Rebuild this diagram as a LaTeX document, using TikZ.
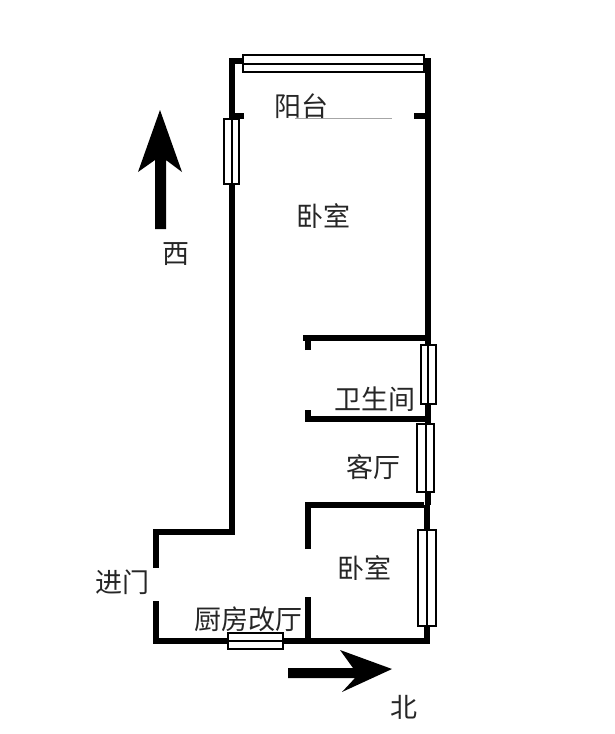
\documentclass[tikz,border=0pt]{standalone}
\usepackage{fontspec}
\newfontfamily\cjk{Noto Sans CJK SC}
\tikzset{
    wall/.style={line width=5.5pt, black},
    window/.style={draw=black, line width=1.5pt, fill=white},
    midline/.style={black, line width=1.5pt},
    room/.style={font=\cjk\fontsize{27}{27}\selectfont, inner sep=0pt, text=black!85},
    bigarrow/.style={fill=black, draw=none},
}
\begin{document}
\begin{tikzpicture}[x=1pt,y=-1pt]
    \useasboundingbox (0,0) rectangle (614,734);

    % outer walls
    \draw[wall] (243,61) -- (232,61) -- (232,532) -- (156,532) -- (156,568);
    \draw[wall] (156,601) -- (156,641) -- (427,641) -- (427,505);
    \draw[wall] (424,61) -- (428,61) -- (428,505);

    % balcony stubs
    \draw[wall] (232,116) -- (244,116);
    \draw[wall] (414,116) -- (428,116);
    \draw[gray!70, line width=0.8pt] (295,118) -- (392,118);

    % inner walls
    \draw[wall] (308,350) -- (308,338) -- (428,338);
    \draw[wall] (303,338) -- (308,338);
    \draw[wall] (308,410) -- (308,419) -- (428,419);
    \draw[wall] (308,549) -- (308,505) -- (424,505);
    \draw[wall] (308,597) -- (308,641);

    % windows
    \draw[window, line width=2pt] (243,55) rectangle (424,72);
    \draw[midline, line width=2pt] (243,63.5) -- (424,63.5);
    \draw[window] (224,119) rectangle (239,184);
    \draw[midline] (232,119) -- (232,184);
    \draw[window] (421,345) rectangle (436,404);
    \draw[midline] (428,345) -- (428,404);
    \draw[window] (417,424) rectangle (434,492);
    \draw[midline] (426,424) -- (426,492);
    \draw[window] (418,530) rectangle (436,626);
    \draw[midline] (427,530) -- (427,626);
    \draw[window] (228,633) rectangle (283,649);
    \draw[midline] (228,641) -- (283,641);

    % direction arrows
    \fill[bigarrow] (155,229) -- (155,160) -- (138,172) -- (160,110) -- (182,172) -- (166,160) -- (166,229) -- cycle;
    \fill[bigarrow] (288,668) -- (353,668) -- (340,650) -- (392,669) -- (342,692) -- (355,678) -- (288,678) -- cycle;

    % labels
    \node[room] (balcony) at (301,106) {\cjk 阳台};
    \node[room] (bedroomA) at (323,216) {\cjk 卧室};
    \node[room] (west) at (176,254) {\cjk 西};
    \node[room] (bath) at (375,399) {\cjk 卫生间};
    \node[room] (living) at (373,467) {\cjk 客厅};
    \node[room] (bedroomB) at (364,568) {\cjk 卧室};
    \node[room] (entry) at (122,582) {\cjk 进门};
    \node[room] (kitchen) at (248,619) {\cjk 厨房改厅};
    \node[room] (north) at (404,707) {\cjk 北};
\end{tikzpicture}
\end{document}
